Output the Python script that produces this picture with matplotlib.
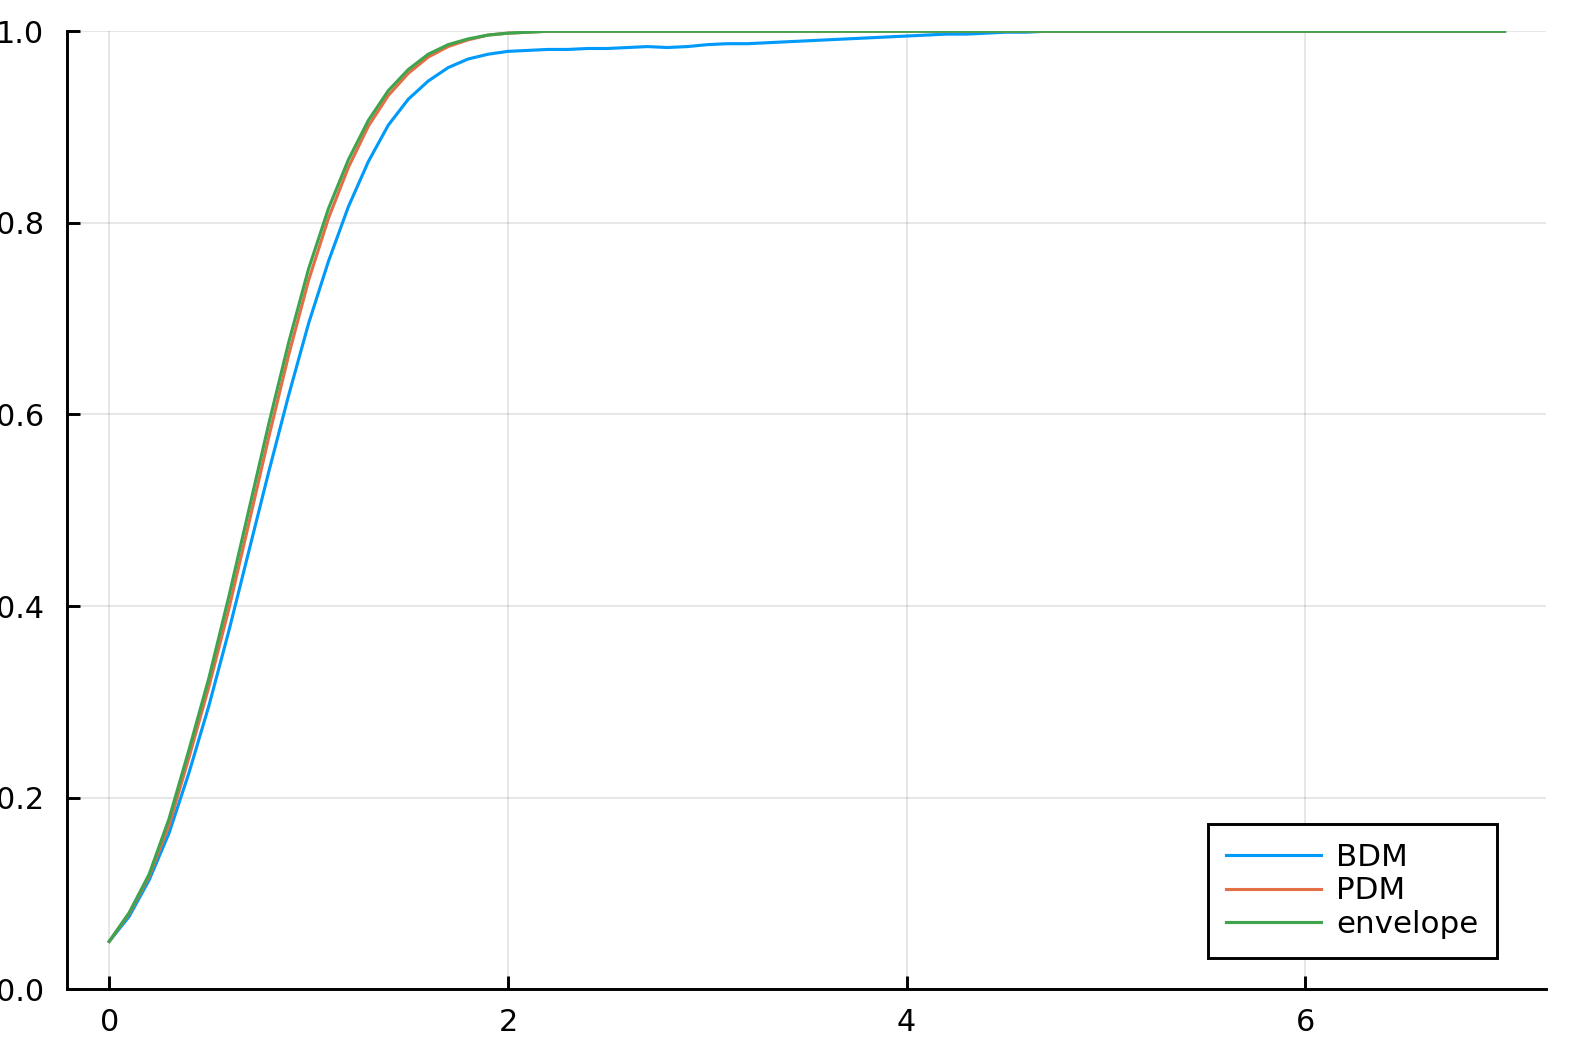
import numpy as np
import matplotlib
matplotlib.use("Agg")
import matplotlib.pyplot as plt

# x grid (step 0.1 from 0 to 7)
x = np.round(np.arange(0, 71) * 0.1, 1)

# BDM curve
bdm = [0.050, 0.076, 0.114, 0.163, 0.226, 0.296, 0.374, 0.457, 0.540, 0.620,
       0.695, 0.760, 0.817, 0.864, 0.902, 0.929, 0.948, 0.962, 0.971, 0.976,
       0.979, 0.980, 0.981, 0.981, 0.982, 0.982, 0.983, 0.984, 0.983, 0.984,
       0.986, 0.987, 0.987, 0.988, 0.989, 0.990, 0.991, 0.992, 0.993, 0.994,
       0.995, 0.996, 0.997, 0.997, 0.998, 0.999, 0.999, 1.000, 1.000, 1.000]
bdm = bdm + [1.0] * (len(x) - len(bdm))

# PDM curve
pdm = [0.050, 0.079, 0.118, 0.171, 0.242, 0.316, 0.397, 0.486, 0.576, 0.662,
       0.740, 0.805, 0.858, 0.901, 0.933, 0.956, 0.973, 0.984, 0.991, 0.996,
       0.998, 0.999, 1.000]
pdm = pdm + [1.0] * (len(x) - len(pdm))

# envelope curve
envelope = [0.050, 0.080, 0.120, 0.178, 0.250, 0.325, 0.410, 0.500, 0.590, 0.675,
            0.752, 0.815, 0.866, 0.907, 0.938, 0.960, 0.976, 0.986, 0.992, 0.996,
            0.998, 0.999, 1.000]
envelope = envelope + [1.0] * (len(x) - len(envelope))

labels = ["BDM", "PDM", "envelope"]
colors = ["#009AFA", "#E26F46", "#3EA44E"]

fig = plt.figure(figsize=(6, 4), dpi=263)
ax = fig.add_axes([0.0427, 0.0596, 0.9373, 0.9107])

for y, lab, c in zip([bdm, pdm, envelope], labels, colors):
    ax.plot(x, y, color=c, lw=0.85, label=lab)

ax.set_xlim(-0.21, 7.21)
ax.set_ylim(0, 1)
ax.set_xticks([0, 2, 4, 6])
ax.set_xticklabels(["0", "2", "4", "6"])
ax.set_yticks([0.0, 0.2, 0.4, 0.6, 0.8, 1.0])
ax.set_yticklabels(["0.0", "0.2", "0.4", "0.6", "0.8", "1.0"])

ax.spines["top"].set_visible(False)
ax.spines["right"].set_visible(False)
for s in ["left", "bottom"]:
    ax.spines[s].set_linewidth(0.8)
ax.tick_params(direction="in", length=3.6, width=0.8, labelsize=8.3, colors="black")
ax.tick_params(axis="x", pad=5.0)
ax.tick_params(axis="y", pad=6.5)
ax.grid(True, color="black", alpha=0.1, lw=0.5)
ax.set_axisbelow(True)

leg = ax.legend(loc="lower right", bbox_to_anchor=(0.9668, 0.033), fontsize=8.5,
                fancybox=False, framealpha=1, edgecolor="black",
                handlelength=3.05, handletextpad=0.5, labelspacing=0.15,
                borderpad=0.6, borderaxespad=0)
leg.get_frame().set_linewidth(0.8)

fig.savefig("out.png", dpi=263)
